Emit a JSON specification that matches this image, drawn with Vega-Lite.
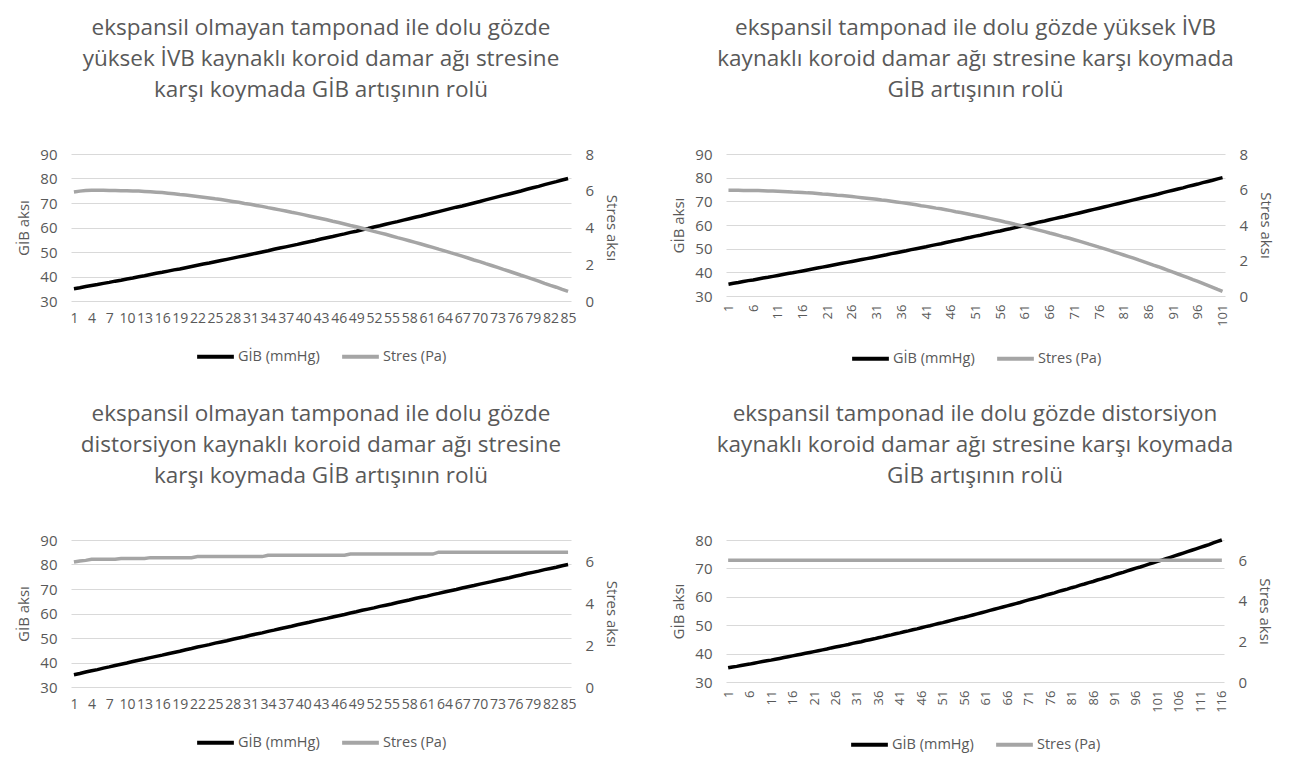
{
"$schema": "https://vega.github.io/schema/vega-lite/v6.json",
"background": "white",
"padding": {"left": 16, "top": 16, "right": 5, "bottom": 5},
"config": {
  "font": "Open Sans",
  "view": {"stroke": null},
  "axis": {"labelColor": "#595959", "titleColor": "#595959", "labelFontSize": 15, "titleFontSize": 15, "titleFontWeight": "normal", "domain": false, "ticks": false, "tickSize": 0, "grid": false},
  "axisX": {"labelOverlap": false, "labelFontSize": 14},
  "title": {"fontSize": 22.5, "fontWeight": "normal", "color": "#595959", "lineHeight": 31, "offset": 46, "anchor": "middle"},
  "legend": {"orient": "bottom", "direction": "horizontal", "symbolType": "stroke", "title": null, "labelFontSize": 14.5, "labelColor": "#595959", "symbolSize": 1350, "symbolStrokeWidth": 4, "columnPadding": 14, "labelOffset": 2, "offset": 11, "layout": {"bottom": {"anchor": "middle"}}}
},
"datasets": {
"p1": [
{"i":1,"g":35.0,"s":5.93},{"i":2,"g":35.4,"s":5.98},{"i":3,"g":35.9,"s":6.01},{"i":4,"g":36.3,"s":6.03},{"i":5,"g":36.7,"s":6.03},{"i":6,"g":37.2,"s":6.03},{"i":7,"g":37.6,"s":6.02},{"i":8,"g":38.1,"s":6.01},{"i":9,"g":38.5,"s":6.0},{"i":10,"g":39.0,"s":6.0},
{"i":11,"g":39.4,"s":5.99},{"i":12,"g":39.9,"s":5.98},{"i":13,"g":40.3,"s":5.96},{"i":14,"g":40.8,"s":5.94},{"i":15,"g":41.3,"s":5.92},{"i":16,"g":41.7,"s":5.90},{"i":17,"g":42.2,"s":5.87},{"i":18,"g":42.7,"s":5.84},{"i":19,"g":43.1,"s":5.80},{"i":20,"g":43.6,"s":5.77},
{"i":21,"g":44.1,"s":5.73},{"i":22,"g":44.6,"s":5.69},{"i":23,"g":45.1,"s":5.65},{"i":24,"g":45.5,"s":5.61},{"i":25,"g":46.0,"s":5.56},{"i":26,"g":46.5,"s":5.52},{"i":27,"g":47.0,"s":5.47},{"i":28,"g":47.5,"s":5.42},{"i":29,"g":48.0,"s":5.37},{"i":30,"g":48.5,"s":5.31},
{"i":31,"g":49.0,"s":5.26},{"i":32,"g":49.5,"s":5.20},{"i":33,"g":50.0,"s":5.15},{"i":34,"g":50.5,"s":5.08},{"i":35,"g":51.1,"s":5.02},{"i":36,"g":51.6,"s":4.96},{"i":37,"g":52.1,"s":4.90},{"i":38,"g":52.6,"s":4.83},{"i":39,"g":53.1,"s":4.77},{"i":40,"g":53.7,"s":4.70},
{"i":41,"g":54.2,"s":4.63},{"i":42,"g":54.7,"s":4.56},{"i":43,"g":55.3,"s":4.49},{"i":44,"g":55.8,"s":4.42},{"i":45,"g":56.3,"s":4.34},{"i":46,"g":56.9,"s":4.27},{"i":47,"g":57.4,"s":4.19},{"i":48,"g":58.0,"s":4.11},{"i":49,"g":58.5,"s":4.04},{"i":50,"g":59.1,"s":3.96},
{"i":51,"g":59.6,"s":3.88},{"i":52,"g":60.2,"s":3.79},{"i":53,"g":60.7,"s":3.71},{"i":54,"g":61.3,"s":3.63},{"i":55,"g":61.9,"s":3.54},{"i":56,"g":62.4,"s":3.45},{"i":57,"g":63.0,"s":3.37},{"i":58,"g":63.6,"s":3.28},{"i":59,"g":64.2,"s":3.19},{"i":60,"g":64.7,"s":3.10},
{"i":61,"g":65.3,"s":3.01},{"i":62,"g":65.9,"s":2.92},{"i":63,"g":66.5,"s":2.82},{"i":64,"g":67.1,"s":2.73},{"i":65,"g":67.7,"s":2.63},{"i":66,"g":68.3,"s":2.54},{"i":67,"g":68.8,"s":2.44},{"i":68,"g":69.4,"s":2.34},{"i":69,"g":70.0,"s":2.23},{"i":70,"g":70.6,"s":2.14},
{"i":71,"g":71.3,"s":2.03},{"i":72,"g":71.9,"s":1.93},{"i":73,"g":72.5,"s":1.83},{"i":74,"g":73.1,"s":1.72},{"i":75,"g":73.7,"s":1.62},{"i":76,"g":74.3,"s":1.51},{"i":77,"g":74.9,"s":1.40},{"i":78,"g":75.6,"s":1.30},{"i":79,"g":76.2,"s":1.19},{"i":80,"g":76.8,"s":1.08},
{"i":81,"g":77.5,"s":0.96},{"i":82,"g":78.1,"s":0.85},{"i":83,"g":78.7,"s":0.75},{"i":84,"g":79.4,"s":0.63},{"i":85,"g":80.0,"s":0.52}
],
"p2": [
{"i":1,"g":35.0,"s":5.96},{"i":2,"g":35.4,"s":5.96},{"i":3,"g":35.7,"s":5.96},{"i":4,"g":36.1,"s":5.95},{"i":5,"g":36.5,"s":5.95},{"i":6,"g":36.8,"s":5.95},{"i":7,"g":37.2,"s":5.94},{"i":8,"g":37.6,"s":5.93},{"i":9,"g":37.9,"s":5.92},{"i":10,"g":38.3,"s":5.91},
{"i":11,"g":38.7,"s":5.90},{"i":12,"g":39.1,"s":5.89},{"i":13,"g":39.5,"s":5.88},{"i":14,"g":39.8,"s":5.86},{"i":15,"g":40.2,"s":5.85},{"i":16,"g":40.6,"s":5.83},{"i":17,"g":41.0,"s":5.81},{"i":18,"g":41.4,"s":5.80},{"i":19,"g":41.8,"s":5.78},{"i":20,"g":42.2,"s":5.75},
{"i":21,"g":42.6,"s":5.73},{"i":22,"g":43.0,"s":5.71},{"i":23,"g":43.4,"s":5.68},{"i":24,"g":43.8,"s":5.66},{"i":25,"g":44.2,"s":5.63},{"i":26,"g":44.6,"s":5.60},{"i":27,"g":45.0,"s":5.57},{"i":28,"g":45.4,"s":5.54},{"i":29,"g":45.8,"s":5.51},{"i":30,"g":46.2,"s":5.48},
{"i":31,"g":46.6,"s":5.45},{"i":32,"g":47.0,"s":5.41},{"i":33,"g":47.4,"s":5.38},{"i":34,"g":47.9,"s":5.34},{"i":35,"g":48.3,"s":5.30},{"i":36,"g":48.7,"s":5.26},{"i":37,"g":49.1,"s":5.22},{"i":38,"g":49.6,"s":5.18},{"i":39,"g":50.0,"s":5.14},{"i":40,"g":50.4,"s":5.09},
{"i":41,"g":50.8,"s":5.05},{"i":42,"g":51.3,"s":5.00},{"i":43,"g":51.7,"s":4.95},{"i":44,"g":52.1,"s":4.91},{"i":45,"g":52.6,"s":4.86},{"i":46,"g":53.0,"s":4.81},{"i":47,"g":53.5,"s":4.75},{"i":48,"g":53.9,"s":4.70},{"i":49,"g":54.4,"s":4.65},{"i":50,"g":54.8,"s":4.59},
{"i":51,"g":55.3,"s":4.54},{"i":52,"g":55.7,"s":4.48},{"i":53,"g":56.2,"s":4.42},{"i":54,"g":56.6,"s":4.36},{"i":55,"g":57.1,"s":4.30},{"i":56,"g":57.5,"s":4.24},{"i":57,"g":58.0,"s":4.17},{"i":58,"g":58.4,"s":4.11},{"i":59,"g":58.9,"s":4.04},{"i":60,"g":59.4,"s":3.98},
{"i":61,"g":59.8,"s":3.91},{"i":62,"g":60.3,"s":3.84},{"i":63,"g":60.8,"s":3.77},{"i":64,"g":61.3,"s":3.70},{"i":65,"g":61.7,"s":3.63},{"i":66,"g":62.2,"s":3.55},{"i":67,"g":62.7,"s":3.48},{"i":68,"g":63.2,"s":3.40},{"i":69,"g":63.6,"s":3.32},{"i":70,"g":64.1,"s":3.25},
{"i":71,"g":64.6,"s":3.17},{"i":72,"g":65.1,"s":3.09},{"i":73,"g":65.6,"s":3.01},{"i":74,"g":66.1,"s":2.92},{"i":75,"g":66.6,"s":2.84},{"i":76,"g":67.1,"s":2.75},{"i":77,"g":67.6,"s":2.67},{"i":78,"g":68.1,"s":2.58},{"i":79,"g":68.6,"s":2.49},{"i":80,"g":69.1,"s":2.40},
{"i":81,"g":69.6,"s":2.31},{"i":82,"g":70.1,"s":2.22},{"i":83,"g":70.6,"s":2.13},{"i":84,"g":71.1,"s":2.03},{"i":85,"g":71.6,"s":1.94},{"i":86,"g":72.1,"s":1.84},{"i":87,"g":72.6,"s":1.74},{"i":88,"g":73.1,"s":1.65},{"i":89,"g":73.7,"s":1.55},{"i":90,"g":74.2,"s":1.45},
{"i":91,"g":74.7,"s":1.34},{"i":92,"g":75.2,"s":1.24},{"i":93,"g":75.7,"s":1.14},{"i":94,"g":76.3,"s":1.03},{"i":95,"g":76.8,"s":0.92},{"i":96,"g":77.3,"s":0.82},{"i":97,"g":77.9,"s":0.71},{"i":98,"g":78.4,"s":0.60},{"i":99,"g":78.9,"s":0.49},{"i":100,"g":79.5,"s":0.37},
{"i":101,"g":80.0,"s":0.26}
],
"p3": [
{"i":1,"g":35.0,"s":5.95},{"i":2,"g":35.5,"s":6.0},{"i":3,"g":36.1,"s":6.03},{"i":4,"g":36.6,"s":6.08},{"i":5,"g":37.1,"s":6.08},{"i":6,"g":37.7,"s":6.08},{"i":7,"g":38.2,"s":6.08},{"i":8,"g":38.8,"s":6.08},{"i":9,"g":39.3,"s":6.12},{"i":10,"g":39.8,"s":6.12},
{"i":11,"g":40.4,"s":6.12},{"i":12,"g":40.9,"s":6.12},{"i":13,"g":41.4,"s":6.12},{"i":14,"g":42.0,"s":6.16},{"i":15,"g":42.5,"s":6.16},{"i":16,"g":43.0,"s":6.16},{"i":17,"g":43.6,"s":6.16},{"i":18,"g":44.1,"s":6.16},{"i":19,"g":44.6,"s":6.16},{"i":20,"g":45.2,"s":6.16},
{"i":21,"g":45.7,"s":6.16},{"i":22,"g":46.3,"s":6.21},{"i":23,"g":46.8,"s":6.21},{"i":24,"g":47.3,"s":6.21},{"i":25,"g":47.9,"s":6.21},{"i":26,"g":48.4,"s":6.21},{"i":27,"g":48.9,"s":6.21},{"i":28,"g":49.5,"s":6.21},{"i":29,"g":50.0,"s":6.21},{"i":30,"g":50.5,"s":6.21},
{"i":31,"g":51.1,"s":6.21},{"i":32,"g":51.6,"s":6.21},{"i":33,"g":52.1,"s":6.21},{"i":34,"g":52.7,"s":6.27},{"i":35,"g":53.2,"s":6.27},{"i":36,"g":53.8,"s":6.27},{"i":37,"g":54.3,"s":6.27},{"i":38,"g":54.8,"s":6.27},{"i":39,"g":55.4,"s":6.27},{"i":40,"g":55.9,"s":6.27},
{"i":41,"g":56.4,"s":6.27},{"i":42,"g":57.0,"s":6.27},{"i":43,"g":57.5,"s":6.27},{"i":44,"g":58.0,"s":6.27},{"i":45,"g":58.6,"s":6.27},{"i":46,"g":59.1,"s":6.27},{"i":47,"g":59.6,"s":6.27},{"i":48,"g":60.2,"s":6.33},{"i":49,"g":60.7,"s":6.33},{"i":50,"g":61.3,"s":6.33},
{"i":51,"g":61.8,"s":6.33},{"i":52,"g":62.3,"s":6.33},{"i":53,"g":62.9,"s":6.33},{"i":54,"g":63.4,"s":6.33},{"i":55,"g":63.9,"s":6.33},{"i":56,"g":64.5,"s":6.33},{"i":57,"g":65.0,"s":6.33},{"i":58,"g":65.5,"s":6.33},{"i":59,"g":66.1,"s":6.33},{"i":60,"g":66.6,"s":6.33},
{"i":61,"g":67.1,"s":6.33},{"i":62,"g":67.7,"s":6.33},{"i":63,"g":68.2,"s":6.42},{"i":64,"g":68.8,"s":6.42},{"i":65,"g":69.3,"s":6.42},{"i":66,"g":69.8,"s":6.42},{"i":67,"g":70.4,"s":6.42},{"i":68,"g":70.9,"s":6.42},{"i":69,"g":71.4,"s":6.42},{"i":70,"g":72.0,"s":6.42},
{"i":71,"g":72.5,"s":6.42},{"i":72,"g":73.0,"s":6.42},{"i":73,"g":73.6,"s":6.42},{"i":74,"g":74.1,"s":6.42},{"i":75,"g":74.6,"s":6.42},{"i":76,"g":75.2,"s":6.42},{"i":77,"g":75.7,"s":6.42},{"i":78,"g":76.3,"s":6.42},{"i":79,"g":76.8,"s":6.42},{"i":80,"g":77.3,"s":6.42},
{"i":81,"g":77.9,"s":6.42},{"i":82,"g":78.4,"s":6.42},{"i":83,"g":78.9,"s":6.42},{"i":84,"g":79.5,"s":6.42},{"i":85,"g":80.0,"s":6.42}
],
"p4": [
{"i":1,"g":35.0,"s":6},{"i":2,"g":35.3,"s":6},{"i":3,"g":35.5,"s":6},{"i":4,"g":35.8,"s":6},{"i":5,"g":36.1,"s":6},{"i":6,"g":36.3,"s":6},{"i":7,"g":36.6,"s":6},{"i":8,"g":36.9,"s":6},{"i":9,"g":37.2,"s":6},{"i":10,"g":37.5,"s":6},
{"i":11,"g":37.7,"s":6},{"i":12,"g":38.0,"s":6},{"i":13,"g":38.3,"s":6},{"i":14,"g":38.6,"s":6},{"i":15,"g":38.9,"s":6},{"i":16,"g":39.2,"s":6},{"i":17,"g":39.5,"s":6},{"i":18,"g":39.8,"s":6},{"i":19,"g":40.1,"s":6},{"i":20,"g":40.4,"s":6},
{"i":21,"g":40.7,"s":6},{"i":22,"g":41.0,"s":6},{"i":23,"g":41.3,"s":6},{"i":24,"g":41.6,"s":6},{"i":25,"g":42.0,"s":6},{"i":26,"g":42.3,"s":6},{"i":27,"g":42.6,"s":6},{"i":28,"g":42.9,"s":6},{"i":29,"g":43.2,"s":6},{"i":30,"g":43.6,"s":6},
{"i":31,"g":43.9,"s":6},{"i":32,"g":44.2,"s":6},{"i":33,"g":44.6,"s":6},{"i":34,"g":44.9,"s":6},{"i":35,"g":45.2,"s":6},{"i":36,"g":45.6,"s":6},{"i":37,"g":45.9,"s":6},{"i":38,"g":46.3,"s":6},{"i":39,"g":46.6,"s":6},{"i":40,"g":47.0,"s":6},
{"i":41,"g":47.3,"s":6},{"i":42,"g":47.7,"s":6},{"i":43,"g":48.0,"s":6},{"i":44,"g":48.4,"s":6},{"i":45,"g":48.7,"s":6},{"i":46,"g":49.1,"s":6},{"i":47,"g":49.5,"s":6},{"i":48,"g":49.8,"s":6},{"i":49,"g":50.2,"s":6},{"i":50,"g":50.6,"s":6},
{"i":51,"g":50.9,"s":6},{"i":52,"g":51.3,"s":6},{"i":53,"g":51.7,"s":6},{"i":54,"g":52.1,"s":6},{"i":55,"g":52.5,"s":6},{"i":56,"g":52.8,"s":6},{"i":57,"g":53.2,"s":6},{"i":58,"g":53.6,"s":6},{"i":59,"g":54.0,"s":6},{"i":60,"g":54.4,"s":6},
{"i":61,"g":54.8,"s":6},{"i":62,"g":55.2,"s":6},{"i":63,"g":55.6,"s":6},{"i":64,"g":56.0,"s":6},{"i":65,"g":56.4,"s":6},{"i":66,"g":56.8,"s":6},{"i":67,"g":57.2,"s":6},{"i":68,"g":57.6,"s":6},{"i":69,"g":58.0,"s":6},{"i":70,"g":58.5,"s":6},
{"i":71,"g":58.9,"s":6},{"i":72,"g":59.3,"s":6},{"i":73,"g":59.7,"s":6},{"i":74,"g":60.1,"s":6},{"i":75,"g":60.6,"s":6},{"i":76,"g":61.0,"s":6},{"i":77,"g":61.4,"s":6},{"i":78,"g":61.9,"s":6},{"i":79,"g":62.3,"s":6},{"i":80,"g":62.7,"s":6},
{"i":81,"g":63.2,"s":6},{"i":82,"g":63.6,"s":6},{"i":83,"g":64.1,"s":6},{"i":84,"g":64.5,"s":6},{"i":85,"g":65.0,"s":6},{"i":86,"g":65.4,"s":6},{"i":87,"g":65.9,"s":6},{"i":88,"g":66.3,"s":6},{"i":89,"g":66.8,"s":6},{"i":90,"g":67.2,"s":6},
{"i":91,"g":67.7,"s":6},{"i":92,"g":68.2,"s":6},{"i":93,"g":68.6,"s":6},{"i":94,"g":69.1,"s":6},{"i":95,"g":69.6,"s":6},{"i":96,"g":70.1,"s":6},{"i":97,"g":70.5,"s":6},{"i":98,"g":71.0,"s":6},{"i":99,"g":71.5,"s":6},{"i":100,"g":72.0,"s":6},
{"i":101,"g":72.5,"s":6},{"i":102,"g":72.9,"s":6},{"i":103,"g":73.4,"s":6},{"i":104,"g":73.9,"s":6},{"i":105,"g":74.4,"s":6},{"i":106,"g":74.9,"s":6},{"i":107,"g":75.4,"s":6},{"i":108,"g":75.9,"s":6},{"i":109,"g":76.4,"s":6},{"i":110,"g":76.9,"s":6},
{"i":111,"g":77.4,"s":6},{"i":112,"g":77.9,"s":6},{"i":113,"g":78.4,"s":6},{"i":114,"g":79.0,"s":6},{"i":115,"g":79.5,"s":6},{"i":116,"g":80.0,"s":6}
]
},
"resolve": {"scale": {"color": "independent"}, "legend": {"color": "independent"}},
"spacing": 35,
"vconcat": [
 {"hconcat": [
  {"title": {"text": ["ekspansil olmayan tamponad ile dolu gözde", "yüksek İVB kaynaklı koroid damar ağı stresine", "karşı koymada GİB artışının rolü"]},
   "width": 500, "height": 147, "data": {"name": "p1"},
   "encoding": {"x": {"field": "i", "type": "quantitative", "scale": {"domain": [0.5, 85.5], "nice": false, "zero": false}, "axis": {"values": [1,4,7,10,13,16,19,22,25,28,31,34,37,40,43,46,49,52,55,58,61,64,67,70,73,76,79,82,85], "labelAngle": 0, "labelOverlap": false, "labelFlush": false, "labelBound": false, "title": null, "labelPadding": 10}}},
   "layer": [
    {"mark": {"type": "line", "strokeWidth": 3.5}, "encoding": {
      "y": {"field": "g", "type": "quantitative", "scale": {"domain": [30, 90], "nice": false, "zero": false}, "axis": {"values": [30,40,50,60,70,80,90], "grid": true, "gridColor": "#d9d9d9", "title": "GİB aksı", "labelPadding": 14, "titlePadding": 8}},
      "color": {"datum": "GİB (mmHg)", "type": "nominal", "scale": {"domain": ["GİB (mmHg)", "Stres (Pa)"], "range": ["#000000", "#a5a5a5"]}}}},
    {"mark": {"type": "line", "strokeWidth": 3.5}, "encoding": {
      "y": {"field": "s", "type": "quantitative", "scale": {"domain": [0, 8], "nice": false, "zero": false}, "axis": {"orient": "right", "values": [0,2,4,6,8], "title": "Stres aksı", "labelPadding": 14, "titlePadding": 10}},
      "color": {"datum": "Stres (Pa)", "type": "nominal"}}}
   ],
   "resolve": {"scale": {"y": "independent"}}},
  {"title": {"text": ["ekspansil tamponad ile dolu gözde yüksek İVB", "kaynaklı koroid damar ağı stresine karşı koymada", "GİB artışının rolü"]},
   "width": 499, "height": 142, "data": {"name": "p2"},
   "encoding": {"x": {"field": "i", "type": "quantitative", "scale": {"domain": [0.5, 101.5], "nice": false, "zero": false}, "axis": {"values": [1,6,11,16,21,26,31,36,41,46,51,56,61,66,71,76,81,86,91,96,101], "labelAngle": -90, "labelFontSize": 13, "labelOverlap": false, "labelFlush": false, "labelBound": false, "title": null, "labelPadding": 8}}},
   "layer": [
    {"mark": {"type": "line", "strokeWidth": 3.5}, "encoding": {
      "y": {"field": "g", "type": "quantitative", "scale": {"domain": [30, 90], "nice": false, "zero": false}, "axis": {"values": [30,40,50,60,70,80,90], "grid": true, "gridColor": "#d9d9d9", "title": "GİB aksı", "labelPadding": 14, "titlePadding": 8}},
      "color": {"datum": "GİB (mmHg)", "type": "nominal", "scale": {"domain": ["GİB (mmHg)", "Stres (Pa)"], "range": ["#000000", "#a5a5a5"]}}}},
    {"mark": {"type": "line", "strokeWidth": 3.5}, "encoding": {
      "y": {"field": "s", "type": "quantitative", "scale": {"domain": [0, 8], "nice": false, "zero": false}, "axis": {"orient": "right", "values": [0,2,4,6,8], "title": "Stres aksı", "labelPadding": 14, "titlePadding": 10}},
      "color": {"datum": "Stres (Pa)", "type": "nominal"}}}
   ],
   "resolve": {"scale": {"y": "independent"}}}
 ], "spacing": 52, "resolve": {"scale": {"color": "independent"}, "legend": {"color": "independent"}}},
 {"hconcat": [
  {"title": {"text": ["ekspansil olmayan tamponad ile dolu gözde", "distorsiyon kaynaklı koroid damar ağı stresine", "karşı koymada GİB artışının rolü"]},
   "width": 500, "height": 147, "data": {"name": "p3"},
   "encoding": {"x": {"field": "i", "type": "quantitative", "scale": {"domain": [0.5, 85.5], "nice": false, "zero": false}, "axis": {"values": [1,4,7,10,13,16,19,22,25,28,31,34,37,40,43,46,49,52,55,58,61,64,67,70,73,76,79,82,85], "labelAngle": 0, "labelOverlap": false, "labelFlush": false, "labelBound": false, "title": null, "labelPadding": 10}}},
   "layer": [
    {"mark": {"type": "line", "strokeWidth": 3.5}, "encoding": {
      "y": {"field": "g", "type": "quantitative", "scale": {"domain": [30, 90], "nice": false, "zero": false}, "axis": {"values": [30,40,50,60,70,80,90], "grid": true, "gridColor": "#d9d9d9", "title": "GİB aksı", "labelPadding": 14, "titlePadding": 8}},
      "color": {"datum": "GİB (mmHg)", "type": "nominal", "scale": {"domain": ["GİB (mmHg)", "Stres (Pa)"], "range": ["#000000", "#a5a5a5"]}}}},
    {"mark": {"type": "line", "strokeWidth": 3.5}, "encoding": {
      "y": {"field": "s", "type": "quantitative", "scale": {"domain": [0, 7], "nice": false, "zero": false}, "axis": {"orient": "right", "values": [0,2,4,6], "title": "Stres aksı", "labelPadding": 14, "titlePadding": 10}},
      "color": {"datum": "Stres (Pa)", "type": "nominal"}}}
   ],
   "resolve": {"scale": {"y": "independent"}}},
  {"title": {"text": ["ekspansil tamponad ile dolu gözde distorsiyon", "kaynaklı koroid damar ağı stresine karşı koymada", "GİB artışının rolü"]},
   "width": 498, "height": 142, "data": {"name": "p4"},
   "encoding": {"x": {"field": "i", "type": "quantitative", "scale": {"domain": [0.5, 116.5], "nice": false, "zero": false}, "axis": {"values": [1,6,11,16,21,26,31,36,41,46,51,56,61,66,71,76,81,86,91,96,101,106,111,116], "labelAngle": -90, "labelFontSize": 13, "labelOverlap": false, "labelFlush": false, "labelBound": false, "title": null, "labelPadding": 8}}},
   "layer": [
    {"mark": {"type": "line", "strokeWidth": 3.5}, "encoding": {
      "y": {"field": "g", "type": "quantitative", "scale": {"domain": [30, 80], "nice": false, "zero": false}, "axis": {"values": [30,40,50,60,70,80], "grid": true, "gridColor": "#d9d9d9", "title": "GİB aksı", "labelPadding": 14, "titlePadding": 8}},
      "color": {"datum": "GİB (mmHg)", "type": "nominal", "scale": {"domain": ["GİB (mmHg)", "Stres (Pa)"], "range": ["#000000", "#a5a5a5"]}}}},
    {"mark": {"type": "line", "strokeWidth": 3.5}, "encoding": {
      "y": {"field": "s", "type": "quantitative", "scale": {"domain": [0, 7], "nice": false, "zero": false}, "axis": {"orient": "right", "values": [0,2,4,6], "title": "Stres aksı", "labelPadding": 14, "titlePadding": 10}},
      "color": {"datum": "Stres (Pa)", "type": "nominal"}}}
   ],
   "resolve": {"scale": {"y": "independent"}}}
 ], "spacing": 52, "resolve": {"scale": {"color": "independent"}, "legend": {"color": "independent"}}}
]
}
